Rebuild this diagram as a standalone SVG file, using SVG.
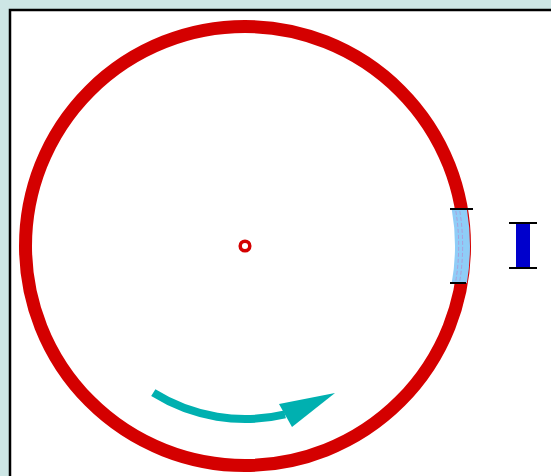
<svg xmlns="http://www.w3.org/2000/svg" width="551" height="476" viewBox="0 0 551 476">
  <style>
    .tick { stroke: #000; stroke-width: 2; fill: none; }
    .ring { fill: none; stroke: #d40000; stroke-width: 13; }
    .dash { fill: none; stroke: #b48ccf; stroke-width: 1; stroke-dasharray: 4 2; opacity: 0.7; }
  </style>
  <rect x="0" y="0" width="551" height="476" fill="#cde6e5"/>
  <rect x="10" y="10" width="560" height="490" fill="#fff" stroke="#000" stroke-width="2.5"/>
  <g id="ring">
    <circle class="ring" cx="245" cy="246" r="219.5"/>
  </g>
  <g id="center">
    <circle cx="245" cy="246" r="4.8" fill="#fff" stroke="#d40000" stroke-width="3.5"/>
  </g>
  <g id="segment">
    <path d="M451.7,209 L466.9,209 A225,225 0 0 1 466.9,283 L451.7,283 A210,210 0 0 0 451.7,209 Z" fill="#8fcdf7"/>
    <path class="dash" d="M455.8,211 A214,214 0 0 1 455.8,281"/>
    <path class="dash" d="M459.8,211 A218,218 0 0 1 459.8,281"/>
    <line class="tick" x1="450" y1="209" x2="473" y2="209"/>
    <line class="tick" x1="450" y1="283" x2="466" y2="283"/>
  </g>
  <g id="scale">
    <rect x="516" y="223" width="14" height="45" fill="#0000cc"/>
    <line class="tick" x1="509" y1="223" x2="537" y2="223"/>
    <line class="tick" x1="509" y1="268" x2="537" y2="268"/>
  </g>
  <g id="connectors">
    <path d="M153.3,392.7 A173,173 0 0 0 285,414.3" fill="none" stroke="#00b0b0" stroke-width="8"/>
    <polygon points="335,393 279,404 292,427" fill="#00b0b0"/>
  </g>
</svg>
